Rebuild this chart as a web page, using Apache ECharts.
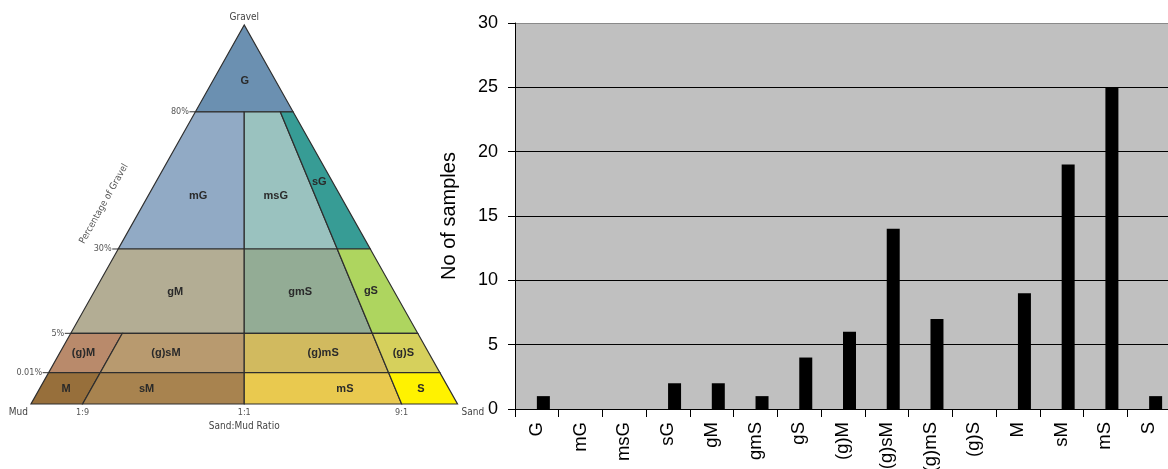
<!DOCTYPE html>
<html>
<head>
<meta charset="utf-8">
<script src="https://cdn.jsdelivr.net/npm/echarts@6/dist/echarts.min.js"></script>
<style>
html,body{margin:0;padding:0;background:#fff;}
#chart{width:1168px;height:469px;}
</style>
</head>
<body>
<div id="chart"></div>
<script>
// ---------- DATA ----------
const categories = ['G','mG','msG','sG','gM','gmS','gS','(g)M','(g)sM','(g)mS','(g)S','M','sM','mS','S'];
const sampleCounts = [1,0,0,2,2,1,4,6,14,7,0,9,19,25,1];
const yAxisMax = 30;
const yAxisInterval = 5;
const yAxisName = 'No of samples';

// Folk classification: gravel class boundaries and sand:mud ratio boundaries
const gravelLevels = ['0%','0.01%','5%','30%','80%','100%'];
const ratioLabels = ['1:9','1:1','9:1'];
// each class: [lower gravel level index, upper gravel level index, left boundary, right boundary]
const classBands = [
  [4,5,'L','R'],
  [3,4,'L','C'],[3,4,'C','N9'],[3,4,'N9','R'],
  [2,3,'L','C'],[2,3,'C','N9'],[2,3,'N9','R'],
  [1,2,'L','N1'],[1,2,'N1','C'],[1,2,'C','N9'],[1,2,'N9','R'],
  [0,1,'L','N1'],[0,1,'N1','C'],[0,1,'C','N9'],[0,1,'N9','R']
];

// ---------- LAYOUT / STYLE ----------
const levelHeight = [0, 0.0826, 0.1865, 0.409, 0.771, 1];   // schematic heights in diagram
const ratioPos = {N1: 0.121, C: 0.5, N9: 0.869};
const classColors = ['#6B90B1','#91AAC5','#9AC2BF','#379C95','#B3AD94','#93AC95','#AED55F',
  '#B98A6B','#B89A6F','#D1BA5F','#D6D05C','#976F3B','#A8834F','#E9C94F','#FFF200'];
const labelAnchor = [[0.501,0.853],[0.392,0.55],[0.574,0.55],[0.676,0.5865],[0.338,0.296],[0.631,0.296],[0.797,0.299],
  [0.123,0.134],[0.3165,0.134],[0.685,0.134],[0.873,0.134],[0.082,0.039],[0.271,0.039],[0.736,0.039],[0.914,0.039]];

function boundaryU(name, h){
  switch(name){
    case 'L': return 0.5*h;
    case 'R': return 1-0.5*h;
    case 'C': return ratioPos.C;
    case 'N1': return ratioPos.N1 + 0.5*h;
    case 'N9': return 0.5 + (1-h)*(ratioPos.N9-0.5);
  }
}
const narrow = '"Liberation Sans Narrow","DejaVu Sans Condensed","Liberation Sans",sans-serif';

const chart = echarts.init(document.getElementById('chart'), null, {renderer:'canvas'});

const option = {
  animation: false,
  backgroundColor: '#ffffff',
  grid: [
    {left: 31, top: 25, width: 426.5, height: 379, show: false, outerBoundsMode: 'none', containLabel: false},
    {left: 515, top: 23, width: 656, height: 386, show: true, backgroundColor: '#C0C0C0', borderWidth: 0, outerBoundsMode: 'none', containLabel: false}
  ],
  xAxis: [
    {gridIndex: 0, type: 'value', min: 0, max: 1, show: false},
    {gridIndex: 1, type: 'category', data: categories,
      axisLine: {lineStyle: {color: '#000', width: 1}},
      axisTick: {show: true, length: 8, lineStyle: {color: '#000'}},
      axisLabel: {rotate: 90, fontSize: 18.5, color: '#000', margin: 13, fontFamily: '"Liberation Sans",Arial,sans-serif', interval: 0, hideOverlap: false},
      splitLine: {show: false}
    }
  ],
  yAxis: [
    {gridIndex: 0, type: 'value', min: 0, max: 1, show: false},
    {gridIndex: 1, type: 'value', min: 0, max: yAxisMax, interval: yAxisInterval,
      name: yAxisName, nameLocation: 'middle', nameGap: 56,
      nameTextStyle: {fontSize: 20, color: '#000', fontFamily: '"Liberation Sans",Arial,sans-serif'},
      axisLine: {show: true, lineStyle: {color: '#000', width: 1}},
      axisTick: {show: true, length: 7, lineStyle: {color: '#000'}},
      axisLabel: {fontSize: 18, color: '#000', margin: 17, fontFamily: '"Liberation Sans",Arial,sans-serif'},
      splitLine: {show: true, lineStyle: {color: ['#000','#000','#000','#000','#000','#000','#8a8a8a'], width: 1}}
    }
  ],
  series: [
    // Folk ternary diagram regions
    {
      type: 'custom', xAxisIndex: 0, yAxisIndex: 0, silent: true,
      data: categories.map((c,i)=>[i]),
      renderItem: function(params, api){
        const i = api.value(0);
        const b = classBands[i];
        const h0 = levelHeight[b[0]], h1 = levelHeight[b[1]];
        const pts = [
          api.coord([boundaryU(b[2],h0), h0]),
          api.coord([boundaryU(b[3],h0), h0]),
          api.coord([boundaryU(b[3],h1), h1]),
          api.coord([boundaryU(b[2],h1), h1])
        ];
        const lp = api.coord(labelAnchor[i]);
        return {type:'group', children:[
          {type:'polygon', shape:{points: pts}, style:{fill: classColors[i], stroke:'#2e2e2e', lineWidth: 1.2}},
          {type:'text', x: lp[0], y: lp[1], z2: 10, style:{text: categories[i], fill:'#2a2a2a', fontSize: 11, fontWeight:'bold',
            fontFamily:'"Liberation Sans",Arial,sans-serif', align:'center', verticalAlign:'middle'}}
        ]};
      }
    },
    // gravel percentage ticks on the left edge
    {
      type: 'custom', xAxisIndex: 0, yAxisIndex: 0, silent: true,
      data: [[1],[2],[3],[4]],
      renderItem: function(params, api){
        const k = api.value(0);
        const h = levelHeight[k];
        const p = api.coord([boundaryU('L',h), h]);
        return {type:'group', children:[
          {type:'line', shape:{x1:p[0]-6, y1:p[1], x2:p[0], y2:p[1]}, style:{stroke:'#333', lineWidth:1}},
          {type:'text', x:p[0]-6.5, y:p[1], style:{text: gravelLevels[k], fill:'#555', fontSize: 9, fontFamily: narrow, align:'right', verticalAlign:'middle'}}
        ]};
      }
    },
    // sand:mud ratio labels and corner / axis titles
    {
      type: 'custom', xAxisIndex: 0, yAxisIndex: 0, silent: true,
      data: [[0]],
      renderItem: function(params, api){
        const kids = [];
        ['N1','C','N9'].forEach((n,j)=>{
          const p = api.coord([ratioPos[n], 0]);
          kids.push({type:'text', x:p[0], y:p[1]+8.5, style:{text: ratioLabels[j], fill:'#555', fontSize: 9, fontFamily: narrow, align:'center', verticalAlign:'middle'}});
        });
        const mud = api.coord([0,0]), sand = api.coord([1,0]), apex = api.coord([0.5,1]);
        kids.push({type:'text', x:mud[0]-3, y:mud[1]+8, style:{text:'Mud', fill:'#444', fontSize: 10, fontFamily: narrow, align:'right', verticalAlign:'middle'}});
        kids.push({type:'text', x:sand[0]+4, y:sand[1]+8, style:{text:'Sand', fill:'#444', fontSize: 10, fontFamily: narrow, align:'left', verticalAlign:'middle'}});
        kids.push({type:'text', x:apex[0], y:apex[1]-8, style:{text:'Gravel', fill:'#444', fontSize: 10, fontFamily: narrow, align:'center', verticalAlign:'middle'}});
        const mid = api.coord([0.5,0]);
        kids.push({type:'text', x:mid[0], y:mid[1]+22.5, style:{text:'Sand:Mud Ratio', fill:'#444', fontSize: 10, fontFamily: narrow, align:'center', verticalAlign:'middle'}});
        const pg = api.coord([0.171, 0.528]);
        kids.push({type:'text', x:pg[0], y:pg[1], rotation: 60.7*Math.PI/180, style:{text:'Percentage of Gravel', fill:'#555', fontSize: 9.5, fontFamily: narrow, align:'center', verticalAlign:'middle'}});
        return {type:'group', children: kids};
      }
    },
    // placeholder (empty) first series of the original bar chart, which shifts the visible bars
    {type:'bar', xAxisIndex:1, yAxisIndex:1, data: [], barWidth: 13, barGap: '0%', silent: true},
    {type:'bar', xAxisIndex:1, yAxisIndex:1, data: sampleCounts, barWidth: 13, barGap: '0%',
      itemStyle: {color:'#000'}, silent: true}
  ]
};
chart.setOption(option);
</script>
</body>
</html>
